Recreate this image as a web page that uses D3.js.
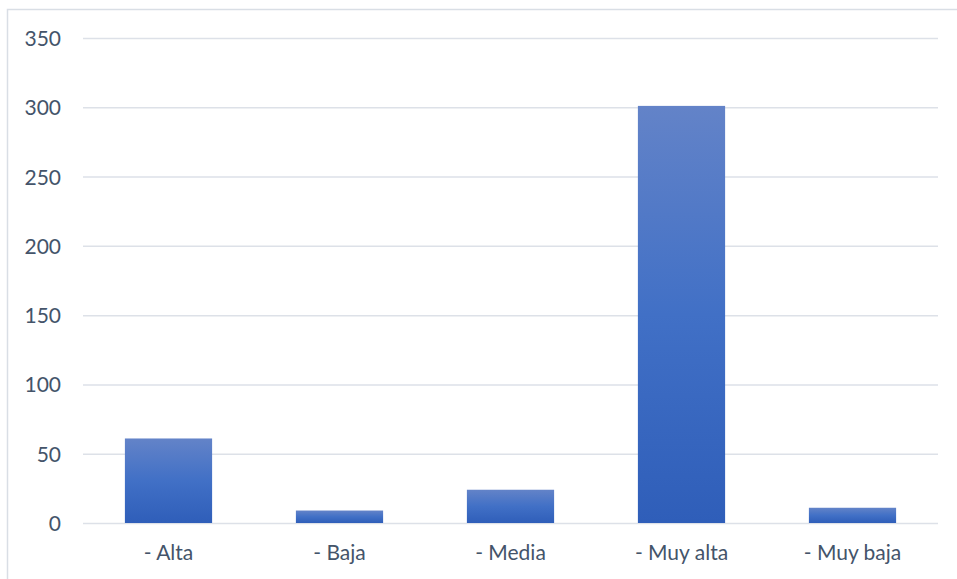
<!DOCTYPE html>
<html>
<head>
<meta charset="utf-8">
<script src="https://cdn.jsdelivr.net/npm/d3@7/dist/d3.min.js"></script>
<style>
  html, body { margin: 0; padding: 0; background: #fff; }
  svg { display: block; }
  text { font-family: Lato, "Open Sans", "Liberation Sans", sans-serif; }
</style>
</head>
<body>
<svg id="chart" width="957" height="579"></svg>
<script>
// Categories and counts
const categories = ["- Alta", "- Baja", "- Media", "- Muy alta", "- Muy baja"];
const counts = [61, 9, 24, 301, 11];
const yTicks = [0, 50, 100, 150, 200, 250, 300, 350];

const W = 957, H = 579;
const plot = { left: 83, right: 938, top: 38, bottom: 523 };
const textColor = "#44546A";
const gridColor = "#DDE1E8";

const svg = d3.select("#chart");

// Outer chart frame (top and left edges visible)
svg.append("path")
  .attr("d", `M7.5,${H} L7.5,9.5 L${W},9.5`)
  .attr("fill", "none")
  .attr("stroke", "#D9DEE5")
  .attr("stroke-width", 1.5);

const x = d3.scaleBand()
  .domain(categories)
  .range([plot.left, plot.right])
  .paddingInner(0.49)
  .paddingOuter(0.245);

const y = d3.scaleLinear()
  .domain([0, 350])
  .range([plot.bottom, plot.top]);

// Vertical gradient applied per bar
const defs = svg.append("defs");
const grad = defs.append("linearGradient")
  .attr("id", "barGrad")
  .attr("x1", 0).attr("y1", 0).attr("x2", 0).attr("y2", 1);
grad.append("stop").attr("offset", "0%").attr("stop-color", "#6383C8");
grad.append("stop").attr("offset", "50%").attr("stop-color", "#4170C6");
grad.append("stop").attr("offset", "100%").attr("stop-color", "#2F5EB9");

// Horizontal gridlines
const yAxis = d3.axisLeft(y)
  .tickValues(yTicks)
  .tickSize(-(plot.right - plot.left))
  .tickPadding(22)
  .tickFormat(d3.format("d"));

const gy = svg.append("g")
  .attr("transform", `translate(${plot.left},0)`)
  .call(yAxis);
gy.select(".domain").remove();
gy.selectAll(".tick line")
  .attr("stroke", gridColor)
  .attr("stroke-width", 1.5);
gy.selectAll(".tick text")
  .attr("fill", textColor)
  .attr("font-size", "21px")
  .attr("dy", "0.36em");

// Bars
svg.append("g")
  .selectAll("rect")
  .data(categories.map((c, i) => ({ c, v: counts[i] })))
  .join("rect")
  .attr("x", d => x(d.c))
  .attr("width", x.bandwidth())
  .attr("y", d => y(d.v))
  .attr("height", d => y(0) - y(d.v))
  .attr("fill", "url(#barGrad)");

// Category axis
const xAxis = d3.axisBottom(x).tickSize(0).tickPadding(22);
const gx = svg.append("g")
  .attr("transform", `translate(0,${plot.bottom})`)
  .call(xAxis);
gx.select(".domain").remove();
gx.selectAll(".tick text")
  .attr("fill", textColor)
  .attr("font-size", "21px");
</script>
</body>
</html>
